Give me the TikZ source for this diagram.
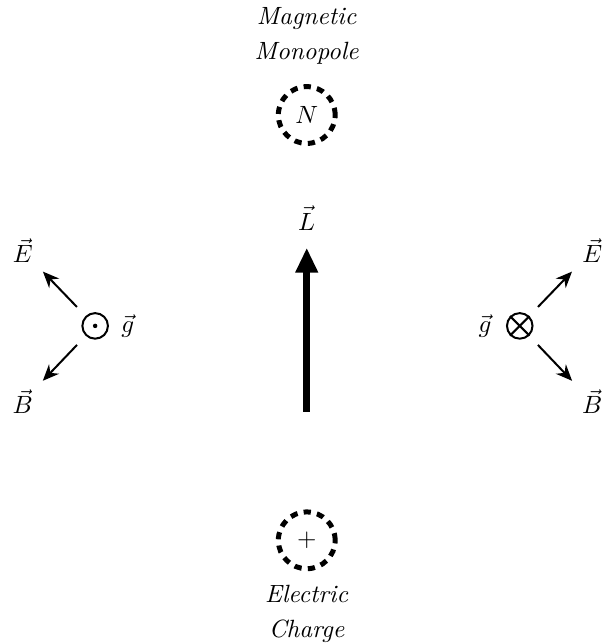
\documentclass[tikz,border=0pt]{standalone}
\usepackage{amsmath}
\usepackage{amssymb}
\usetikzlibrary{arrows.meta}

\begin{document}
\begin{tikzpicture}[line width=0.8pt,
		particle/.style={draw, circle, minimum size=0.8cm, line width=2pt, dash pattern=on 2.9pt off 2.5pt},
		spin/.style={draw, circle, minimum size=0.36cm, inner sep=0pt},
		field/.style={-{Stealth[length=6.5pt, width=5.5pt]}, shorten <=0.37cm, shorten >=0.41cm}]
			
			\useasboundingbox (0,0) rectangle (8.465,9.07);
			
			\node[particle] (mono) at (4.32,7.45) {$N$};
			\node[align=center] (monolabel) at (4.32,8.57) {\textit{Magnetic}\\[2pt]\textit{Monopole}};
			
			\node[particle] (charge) at (4.32,1.46) {$+$};
			\node[align=center] (chargelabel) at (4.32,0.42) {\textit{Electric}\\[2pt]\textit{Charge}};
			
			\coordinate (Ltail) at (4.32,3.27);
			\coordinate (Ltip) at (4.32,5.58);
			\draw[-{Triangle[length=0.35cm, width=0.3cm]}, line width=2.8pt] (Ltail) -- (Ltip);
			\node (Llabel) at (4.32,6.0) {$\vec{L}$};
			
			\node[spin] (dotL) at (1.34,4.48) {};
			\fill (dotL.center) circle (0.9pt);
			\node (gL) at (1.80,4.48) {$\vec{g}$};
			\node (EL) at (0.32,5.54) {$\vec{E}$};
			\node (BL) at (0.32,3.41) {$\vec{B}$};
			\draw[field] (dotL.center) -- (EL.center);
			\draw[field] (dotL.center) -- (BL.center);
			
			\node[spin] (crossR) at (7.32,4.48) {};
			\draw (crossR.north west) -- (crossR.south east);
			\draw (crossR.north east) -- (crossR.south west);
			\node (gR) at (6.83,4.48) {$\vec{g}$};
			\node (ER) at (8.34,5.54) {$\vec{E}$};
			\node (BR) at (8.34,3.41) {$\vec{B}$};
			\draw[field] (crossR.center) -- (ER.center);
			\draw[field] (crossR.center) -- (BR.center);
			
		\end{tikzpicture}
\end{document}
